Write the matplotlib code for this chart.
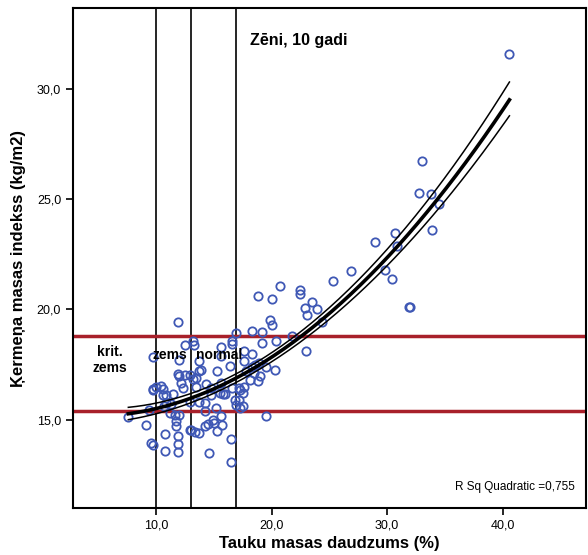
import numpy as np
import matplotlib
matplotlib.use("Agg")
import matplotlib.pyplot as plt
from matplotlib.ticker import FuncFormatter

plt.rcParams['font.family'] = ['Liberation Sans', 'DejaVu Sans']

# body fat % (x) and BMI (y)
fat = [7.6, 9.15, 9.4, 9.6, 9.7, 9.7, 9.7, 9.75,
       10.0, 10.45, 10.6, 10.6, 10.9, 11.45, 10.7, 10.9, 11.3, 11.2, 11.6, 11.95,
       11.7, 11.75, 10.8, 11.9, 11.9, 10.8, 11.9, 11.9, 12.0, 11.9, 12.0, 12.5,
       12.9, 12.2, 12.3, 12.5, 12.9, 12.9,
       13.2, 13.3, 13.2, 13.75, 13.9, 13.75, 13.5, 13.5, 13.75, 14.2, 14.2, 13.0,
       13.4, 13.75, 14.2, 14.5, 14.6, 14.3, 14.75, 14.75, 15.5, 15.8, 16.0, 15.2,
       15.6, 14.9, 15.0, 15.75, 15.3, 15.6, 15.6, 15.3, 15.6, 16.4, 16.6, 16.5,
       16.5, 16.9, 16.6, 16.6, 16.8, 16.9,
       17.2, 17.3, 17.5, 17.3, 17.5, 17.2, 17.6, 17.6, 17.6, 17.8, 18.1, 18.8,
       18.6, 18.5, 19.0, 18.35, 18.3, 18.9, 19.5, 20.3, 18.3, 19.2, 19.15, 18.8,
       19.5, 19.9, 20.0, 20.0,
       20.4, 20.7, 21.8, 22.5, 22.5, 23.5, 22.9, 23.9, 23.1, 24.4, 23.0, 25.3,
       26.9, 29.8, 30.4, 29.0, 30.7, 30.9, 33.9, 31.9, 32.0, 33.0, 32.8, 33.8,
       34.5, 40.6]
bmi = [15.1, 14.74, 15.45, 13.94, 13.87, 16.36, 17.85, 16.4,
       16.5, 16.54, 16.39, 16.13, 16.13, 16.16, 15.6, 15.76, 15.72, 15.3, 15.23, 15.2,
       14.95, 14.72, 14.33, 14.27, 13.9, 13.57, 13.52, 19.41, 17.72, 17.07, 16.96, 17.04,
       17.04, 16.66, 16.44, 18.4, 15.78, 14.55,
       18.55, 18.4, 16.84, 17.64, 17.27, 17.19, 16.89, 16.48, 15.78, 15.76, 15.38, 14.55,
       14.45, 14.4, 14.7, 14.82, 13.5, 16.63, 16.44, 16.13, 16.21, 16.16, 16.16, 15.53,
       15.15, 15.0, 14.85, 14.77, 14.47, 18.28, 17.9, 17.22, 16.66, 17.42, 16.44, 14.12,
       13.1, 18.93, 18.55, 18.43, 15.9, 15.68,
       15.87, 15.53, 15.63, 16.36, 16.21, 16.44, 16.48, 17.64, 18.13, 17.19, 16.81, 16.74,
       17.49, 17.12, 16.96, 17.39, 17.98, 17.57, 17.39, 17.23, 19.0, 18.97, 18.5, 20.59,
       15.18, 19.5, 19.3, 20.47,
       18.58, 21.07, 18.8, 20.86, 20.71, 20.33, 20.06, 20.03, 19.76, 19.41, 18.1, 21.3,
       21.75, 21.8, 21.37, 23.08, 23.49, 22.88, 23.61, 20.1, 20.1, 26.74, 25.27, 25.23,
       24.79, 31.6]

# quadratic fit line and its 95% band
curve_x = [7.6, 10.0, 17.0, 20.0, 30.0, 40.6]
curve_fit = [15.24, 15.48, 17.09, 17.72, 22.3, 29.53]
curve_upper = [15.56, 15.70, 17.27, 17.92, 22.7, 30.33]
curve_lower = [14.92, 15.30, 16.90, 17.52, 21.9, 28.82]
r2_label = 'R Sq Quadratic =0,755'

bmi_cuts = [15.4, 18.8]        # horizontal reference lines
fat_cuts = [10.0, 13.0, 16.9]  # vertical reference lines
x_ticks = [10, 20, 30, 40]
y_ticks = [15, 20, 25, 30]

fig = plt.figure(figsize=(5.88, 5.55), dpi=100)
ax = fig.add_axes([0.124, 0.085, 0.872, 0.9])

for v in fat_cuts:
    ax.axvline(v, color='black', lw=1.2, zorder=1)
for h in bmi_cuts:
    ax.axhline(h, color='#a8202a', lw=2.5, zorder=2)

ax.plot(fat, bmi, 'o', mfc='none', mec='#3f58b5', ms=6, mew=1.3, zorder=3)

# smooth quadratic through the read values
xs = np.linspace(min(curve_x), max(curve_x), 200)
for vals, lw in [(curve_fit, 2.6), (curve_upper, 1.1), (curve_lower, 1.1)]:
    coef = np.polyfit(curve_x, vals, 2)
    ax.plot(xs, np.polyval(coef, xs), color='black', lw=lw, zorder=4)

ax.set_xlim(2.8, 47.2)
ax.set_ylim(11.0, 33.66)
ax.set_xticks(x_ticks)
ax.set_yticks(y_ticks)
fmt = FuncFormatter(lambda v, p: f"{v:.1f}".replace('.', ','))
ax.xaxis.set_major_formatter(fmt)
ax.yaxis.set_major_formatter(fmt)
ax.tick_params(direction='out', length=5, width=1.2, labelsize=9)
for sp in ax.spines.values():
    sp.set_linewidth(1.5)

ax.set_xlabel('Tauku masas daudzums (%)', fontsize=12, fontweight='bold', labelpad=3)
ax.set_ylabel('Ķermeņa masas indekss (kg/m2)', fontsize=12, fontweight='bold', labelpad=8)

ax.text(18.1, 32.2, 'Zēni, 10 gadi', fontsize=11.5, fontweight='bold', va='center')
ax.text(6.0, 17.7, 'krit.\nzems', fontsize=10, fontweight='bold', ha='center', va='center')
ax.text(11.2, 17.95, 'zems', fontsize=10, fontweight='bold', ha='center', va='center')
ax.text(15.5, 17.95, 'normal', fontsize=10, fontweight='bold', ha='center', va='center')
ax.text(46.3, 11.96, r2_label, fontsize=8.5, ha='right', va='center')

fig.savefig('out.png', dpi=100)
